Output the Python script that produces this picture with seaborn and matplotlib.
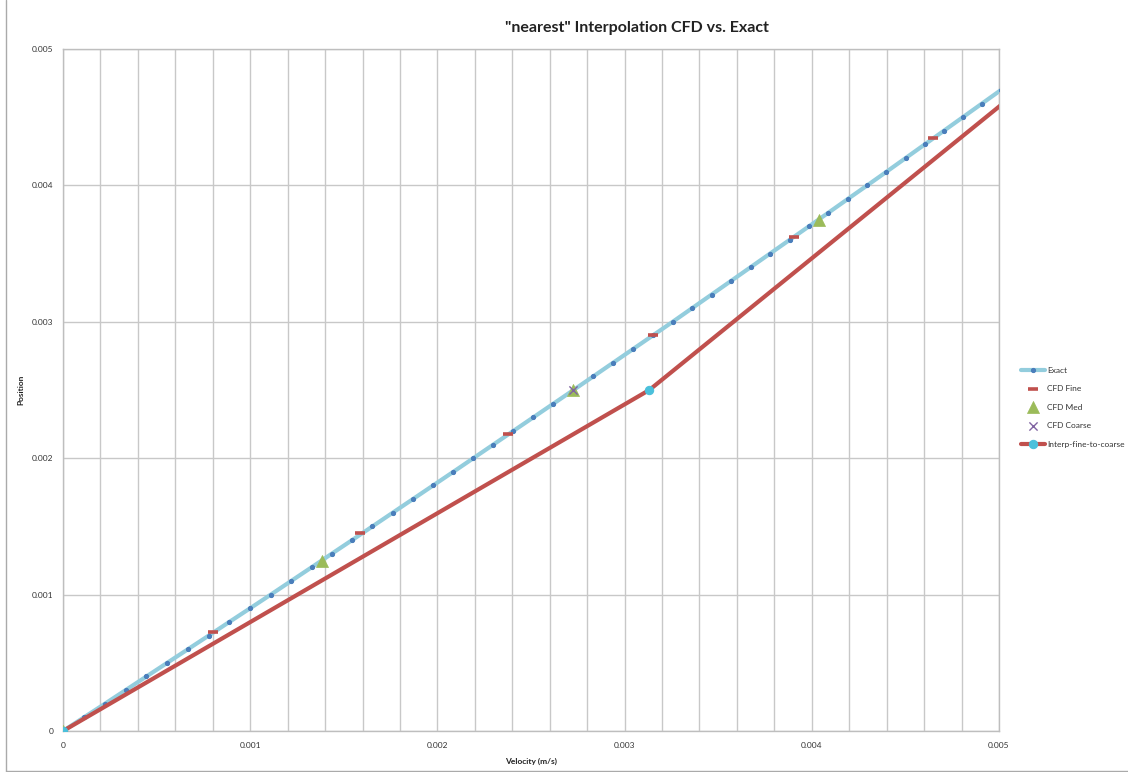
import matplotlib
matplotlib.use("Agg")
import matplotlib.pyplot as plt
import seaborn as sns
import pandas as pd

# Exact solution: position vs velocity
exact_velocity = [0.0, 0.000112, 0.000224, 0.000335, 0.000446, 0.000557, 0.000668, 0.000779,
                  0.000889, 0.001000, 0.001110, 0.001219, 0.001328, 0.001436, 0.001545, 0.001653,
                  0.001761, 0.001869, 0.001977, 0.002085, 0.002192, 0.002299, 0.002406, 0.002513,
                  0.002620, 0.002727, 0.002833, 0.002939, 0.003045, 0.003151, 0.003257, 0.003361,
                  0.003465, 0.003569, 0.003673, 0.003777, 0.003881, 0.003985, 0.004089, 0.004192,
                  0.004296, 0.004399, 0.004501, 0.004603, 0.004705, 0.004807, 0.004909, 0.005011]
exact_position = [0.0, 0.0001, 0.0002, 0.0003, 0.0004, 0.0005, 0.0006, 0.0007,
                  0.0008, 0.0009, 0.0010, 0.0011, 0.0012, 0.0013, 0.0014, 0.0015,
                  0.0016, 0.0017, 0.0018, 0.0019, 0.0020, 0.0021, 0.0022, 0.0023,
                  0.0024, 0.0025, 0.0026, 0.0027, 0.0028, 0.0029, 0.0030, 0.0031,
                  0.0032, 0.0033, 0.0034, 0.0035, 0.0036, 0.0037, 0.0038, 0.0039,
                  0.0040, 0.0041, 0.0042, 0.0043, 0.0044, 0.0045, 0.0046, 0.0047]

# CFD results on three grids
fine_velocity = [0.0, 0.000800, 0.001587, 0.002379, 0.003150, 0.003903, 0.004648]
fine_position = [0.0, 0.000725, 0.001450, 0.002175, 0.002900, 0.003625, 0.004350]

med_velocity = [0.0, 0.001385, 0.002722, 0.004040]
med_position = [0.0, 0.00125, 0.00250, 0.00375]

coarse_velocity = [0.0, 0.002722]
coarse_position = [0.0, 0.0025]

# Fine solution interpolated onto the coarse grid
interp_velocity = [0.0, 0.003132, 0.005380]
interp_position = [0.0, 0.0025, 0.0050]

xtick_values = [0.0, 0.001, 0.002, 0.003, 0.004, 0.005]
xtick_labels = ["0", "0.001", "0.002", "0.003", "0.004", "0.005"]
ytick_values = [0.0, 0.001, 0.002, 0.003, 0.004, 0.005]
ytick_labels = ["0", "0.001", "0.002", "0.003", "0.004", "0.005"]

sns.set_theme(style="white")
plt.rcParams["font.family"] = ["Lato", "DejaVu Sans"]

fig = plt.figure(figsize=(11.28, 7.72), dpi=100)
ax = fig.add_axes([63 / 1128, 41 / 772, 936 / 1128, 682 / 772])

exact_df = pd.DataFrame({"v": exact_velocity, "p": exact_position})
fine_df = pd.DataFrame({"v": fine_velocity, "p": fine_position})
med_df = pd.DataFrame({"v": med_velocity, "p": med_position})
coarse_df = pd.DataFrame({"v": coarse_velocity, "p": coarse_position})
interp_df = pd.DataFrame({"v": interp_velocity, "p": interp_position})

blue_line = "#93CDDD"
blue_dot = "#4A7EBB"
red = "#C0504D"
green = "#9BBB59"
purple = "#8064A2"
cyan = "#4BC0DB"

sns.lineplot(data=exact_df, x="v", y="p", sort=False, ax=ax, color=blue_line, linewidth=3.0,
             marker="o", markersize=3, markerfacecolor=blue_dot, markeredgecolor=blue_dot,
             label="Exact", zorder=3)
sns.scatterplot(data=fine_df, x="v", y="p", ax=ax, marker="_", s=60, linewidth=2.6,
                color=red, label="CFD Fine", zorder=4)
sns.scatterplot(data=med_df, x="v", y="p", ax=ax, marker="^", s=75, color=green,
                edgecolor=green, linewidth=0.5, label="CFD Med", zorder=5)
sns.scatterplot(data=coarse_df, x="v", y="p", ax=ax, marker="x", s=35, linewidth=1.0,
                color=purple, label="CFD Coarse", zorder=6)
sns.lineplot(data=interp_df, x="v", y="p", sort=False, ax=ax, color=red, linewidth=3.0,
             marker="o", markersize=6, markerfacecolor=cyan, markeredgecolor=cyan,
             label="Interp-fine-to-coarse", zorder=7)

ax.set_xlim(0, 0.005)
ax.set_ylim(0, 0.005)

# Gridlines: vertical every 0.0002, horizontal every 0.001
ax.set_xticks(xtick_values)
ax.set_xticklabels(xtick_labels)
ax.set_xticks([i * 0.0002 for i in range(26)], minor=True)
ax.set_yticks(ytick_values)
ax.set_yticklabels(ytick_labels)
ax.grid(which="both", axis="x", color="#C8C8C8", linewidth=1.0)
ax.grid(which="major", axis="y", color="#C8C8C8", linewidth=1.0)
ax.set_axisbelow(True)
ax.tick_params(axis="both", which="both", length=0, labelsize=6, colors="#333333")
ax.tick_params(axis="x", pad=8)
ax.tick_params(axis="y", pad=7)
for side in ["left", "bottom", "top", "right"]:
    ax.spines[side].set_color("#BEBEBE")
    ax.spines[side].set_linewidth(1.0)

ax.set_xlabel("Velocity (m/s)", fontsize=6, fontweight="bold", color="#222222", labelpad=6)
ax.set_ylabel("Position", fontsize=6, fontweight="bold", color="#222222")
ax.yaxis.set_label_coords(-0.041, 0.5)
fig.text(0.565, 0.964, "\"nearest\" Interpolation CFD vs. Exact", ha="center", va="center",
         fontsize=11.5, fontweight="bold", color="#222222")

leg = ax.legend(loc="center left", bbox_to_anchor=(1.024, 0.475), frameon=False,
                fontsize=6, handlelength=2.8, labelspacing=1.38, handletextpad=0.3,
                borderaxespad=0.0, borderpad=0.0)
for t in leg.get_texts():
    t.set_color("#333333")

# Chart-area border
fig.add_artist(plt.Line2D([6 / 1128, 6 / 1128], [1 / 772, 1.0], color="#AAAAAA",
                          linewidth=1.0, transform=fig.transFigure))
fig.add_artist(plt.Line2D([6 / 1128, 1.0], [1 / 772, 1 / 772], color="#AAAAAA",
                          linewidth=1.0, transform=fig.transFigure))

fig.savefig("out.png", dpi=100)
